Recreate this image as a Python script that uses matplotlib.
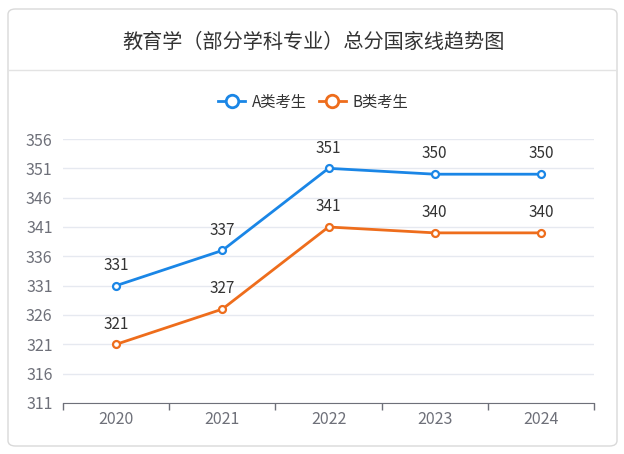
import matplotlib.pyplot as plt
from matplotlib.patches import FancyBboxPatch
from matplotlib.lines import Line2D

plt.rcParams['font.family'] = ['Noto Sans CJK SC', 'DejaVu Sans']

# data
years = ['2020', '2021', '2022', '2023', '2024']
a_scores = [331, 337, 351, 350, 350]
b_scores = [321, 327, 341, 340, 340]
y_ticks = [311, 316, 321, 326, 331, 336, 341, 346, 351, 356]

blue = '#1a86e6'
orange = '#ee6d1c'

W, H = 624, 454
fig = plt.figure(figsize=(W / 100, H / 100), dpi=100)

# card background
card = FancyBboxPatch((8 / W, 8 / H), 609 / W, 437 / H,
                      boxstyle='round,pad=0,rounding_size=0.012',
                      transform=fig.transFigure, facecolor='white',
                      edgecolor='#d9d9d9', linewidth=1, zorder=-10)
fig.patches.append(card)
fig.lines.append(Line2D([9 / W, 616 / W], [1 - 70 / H, 1 - 70 / H],
                        transform=fig.transFigure, color='#e3e3e3', lw=1,
                        zorder=-5))

fig.text(313 / W, 1 - 42 / H, '教育学（部分学科专业）总分国家线趋势图',
         ha='center', va='center', fontsize=14.5, color='#333333')

ax = fig.add_axes([63 / W, 1 - 403 / H, 531 / W, 264 / H])
ax.patch.set_alpha(0)
x = list(range(len(years)))

ax.plot(x, a_scores, color=blue, lw=2, marker='o', ms=5,
        mfc='white', mec=blue, mew=1.6, label='A类考生', zorder=3)
ax.plot(x, b_scores, color=orange, lw=2, marker='o', ms=5,
        mfc='white', mec=orange, mew=1.6, label='B类考生', zorder=3)

for xi, v in zip(x, a_scores):
    ax.annotate(str(v), (xi, v), xytext=(0, 8.5), textcoords='offset points',
                ha='center', va='bottom', fontsize=11, color='#333333')
for xi, v in zip(x, b_scores):
    ax.annotate(str(v), (xi, v), xytext=(0, 8.5), textcoords='offset points',
                ha='center', va='bottom', fontsize=11, color='#333333')

ax.set_xlim(-0.5, 4.5)
ax.set_ylim(311, 356)
ax.set_yticks(y_ticks)
ax.set_xticks(x)
ax.set_xticklabels(years)
ax.set_xticks([i - 0.5 for i in range(len(years) + 1)], minor=True)
ax.tick_params(axis='x', which='major', length=0, pad=6, labelsize=11.5,
               labelcolor='#6e7079')
ax.tick_params(axis='x', which='minor', length=5, color='#6e7079', width=1)
ax.tick_params(axis='y', length=0, pad=7.5, labelsize=11.5, labelcolor='#6e7079')
ax.grid(axis='y', color='#e6e9f0', lw=1)
ax.set_axisbelow(True)
for s in ['top', 'right', 'left']:
    ax.spines[s].set_visible(False)
ax.spines['bottom'].set_color('#6e7079')
ax.spines['bottom'].set_zorder(4)

handles = [Line2D([], [], color=c, lw=2, marker='o', ms=9, mfc='white',
                  mec=c, mew=2) for c in (blue, orange)]
fig.legend(handles, ['A类考生', 'B类考生'], loc='center',
           bbox_to_anchor=(313 / W, 1 - 102 / H), ncol=2, frameon=False,
           fontsize=11, handlelength=1.8, handletextpad=0.4,
           columnspacing=0.8, labelcolor='#333333')

fig.savefig('out.png', dpi=100)
